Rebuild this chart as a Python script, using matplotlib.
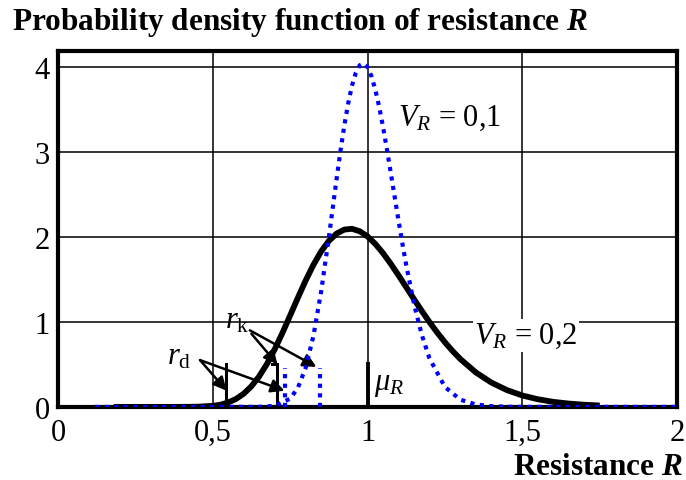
import matplotlib.pyplot as plt

plt.rcParams['font.family'] = ['Liberation Serif', 'DejaVu Serif']
plt.rcParams['mathtext.fontset'] = 'custom'
plt.rcParams['mathtext.rm'] = 'Liberation Serif'
plt.rcParams['mathtext.it'] = 'Liberation Serif:italic'
plt.rcParams['mathtext.bf'] = 'Liberation Serif:bold'
plt.rcParams['mathtext.bfit'] = 'Liberation Serif:bold:italic'

# pdf, V_R = 0.1 (blue dotted)
x_v01 = [0.12, 0.50, 0.65, 0.70, 0.75, 0.775, 0.80, 0.825, 0.85, 0.875, 0.8875, 0.90,
         0.9125, 0.925, 0.9375, 0.95, 0.9625, 0.975, 0.9875, 1.00, 1.0125, 1.025, 1.0375,
         1.05, 1.0625, 1.075, 1.0875, 1.10, 1.1125, 1.125, 1.15, 1.175, 1.20, 1.25,
         1.30, 1.35, 1.40, 1.45, 1.50, 2.00]
f_v01 = [0.0, 0.0, 0.001, 0.011, 0.096, 0.224, 0.457, 0.830, 1.352, 1.992, 2.336, 2.678,
         3.007, 3.308, 3.569, 3.780, 3.931, 4.018, 4.038, 3.995, 3.890, 3.733, 3.531,
         3.294, 3.032, 2.755, 2.473, 2.194, 1.923, 1.667, 1.214, 0.849, 0.572, 0.234,
         0.085, 0.028, 0.008, 0.002, 0.0005, 0.0]

# V_R = 0.2 (black solid)
x_v02 = [0.18, 0.35, 0.40, 0.45, 0.50, 0.525, 0.55, 0.575, 0.60, 0.625, 0.65, 0.675,
         0.70, 0.725, 0.75, 0.775, 0.80, 0.825, 0.85, 0.875, 0.90, 0.925, 0.95, 0.975,
         1.00, 1.025, 1.05, 1.075, 1.10, 1.125, 1.15, 1.175, 1.20, 1.225, 1.25, 1.275,
         1.30, 1.35, 1.40, 1.45, 1.50, 1.55, 1.60, 1.65, 1.70, 1.75]
f_v02 = [0.0, 0.0, 0.0002, 0.002, 0.012, 0.026, 0.052, 0.093, 0.155, 0.243, 0.359, 0.504,
         0.676, 0.869, 1.075, 1.283, 1.485, 1.669, 1.827, 1.951, 2.038, 2.085, 2.094, 2.065,
         2.005, 1.917, 1.808, 1.683, 1.548, 1.408, 1.267, 1.130, 0.998, 0.875, 0.760, 0.656,
         0.562, 0.405, 0.286, 0.198, 0.134, 0.090, 0.059, 0.039, 0.025, 0.016]

x_ticks = [0, 0.5, 1, 1.5, 2]
x_labels = ['0', '0,5', '1', '1,5', '2']
y_ticks = [0, 1, 2, 3, 4]

# fractile markers
r_d = [0.543, 0.708]     # black: V=0.2, V=0.1
r_k = [0.735, 0.845]     # blue dotted
mu_R = 1.0
marker_h = 0.5

fig = plt.figure(figsize=(6.86, 4.81), dpi=100)
ax = fig.add_axes([0.0845, 0.152, 0.9025, 0.739])

ax.plot(x_v02, f_v02, color='black', lw=4.2, solid_capstyle='butt',
        solid_joinstyle='round', zorder=3)
ax.plot(x_v01, f_v01, color='#0000ff', lw=3.0, dashes=(1.0, 1.3), zorder=4)

for xv in r_d:
    ax.plot([xv, xv], [0, marker_h], color='black', lw=2.2, zorder=3)
ax.plot([0.69, 0.708], [marker_h, marker_h], color='black', lw=2.2, zorder=3)
for xv in r_k:
    ax.plot([xv, xv], [0, marker_h - 0.04], color='#0000ff', lw=3.0, dashes=(1.0, 1.3), zorder=4)
ax.plot([mu_R, mu_R], [0, marker_h], color='black', lw=2.8, zorder=3)

arrow = dict(arrowstyle='-|>', color='black', lw=1.8, mutation_scale=20, shrinkA=0, shrinkB=0)
ax.annotate('', xy=(0.545, 0.19), xytext=(0.459, 0.55), arrowprops=arrow)
ax.annotate('', xy=(0.732, 0.19), xytext=(0.459, 0.55), arrowprops=arrow)
ax.annotate('', xy=(0.709, 0.50), xytext=(0.625, 0.86), arrowprops=arrow)
ax.annotate('', xy=(0.835, 0.47), xytext=(0.62, 0.90), arrowprops=arrow)

ax.text(0.39, 0.60, r'$r_{\mathrm{d}}$', fontsize=22, ha='center', va='center')
ax.text(0.578, 1.02, r'$r_{\mathrm{k}}$', fontsize=22, ha='center', va='center')
ax.text(1.10, 3.41, r'$V_R$ = 0,1', fontsize=22, ha='left', va='center')
ax.text(1.345, 0.84, r'$V_R$ = 0,2', fontsize=22, ha='left', va='center',
        bbox=dict(facecolor='white', edgecolor='none', pad=1))
ax.text(1.02, 0.27, r'$\mu_R$', fontsize=22, ha='left', va='center')

ax.set_xlim(0, 2)
ax.set_ylim(0, 4.18)
ax.set_xticks(x_ticks)
ax.set_xticklabels(x_labels)
ax.set_yticks(y_ticks)
ax.tick_params(length=0, labelsize=22, pad=6)
ax.tick_params(axis='x', pad=8)
ax.grid(True, color='black', lw=1.1)
ax.set_axisbelow(True)
for s in ax.spines.values():
    s.set_linewidth(3.0)

fig.text(0.017, 0.954, r'Probability density function of resistance $\mathbfit{R}$',
         fontsize=22.5, fontweight='bold', ha='left', va='center')
fig.text(0.996, 0.029, r'Resistance $\mathbfit{R}$', fontsize=22.5, fontweight='bold',
         ha='right', va='center')

fig.savefig('out.png', dpi=100)
